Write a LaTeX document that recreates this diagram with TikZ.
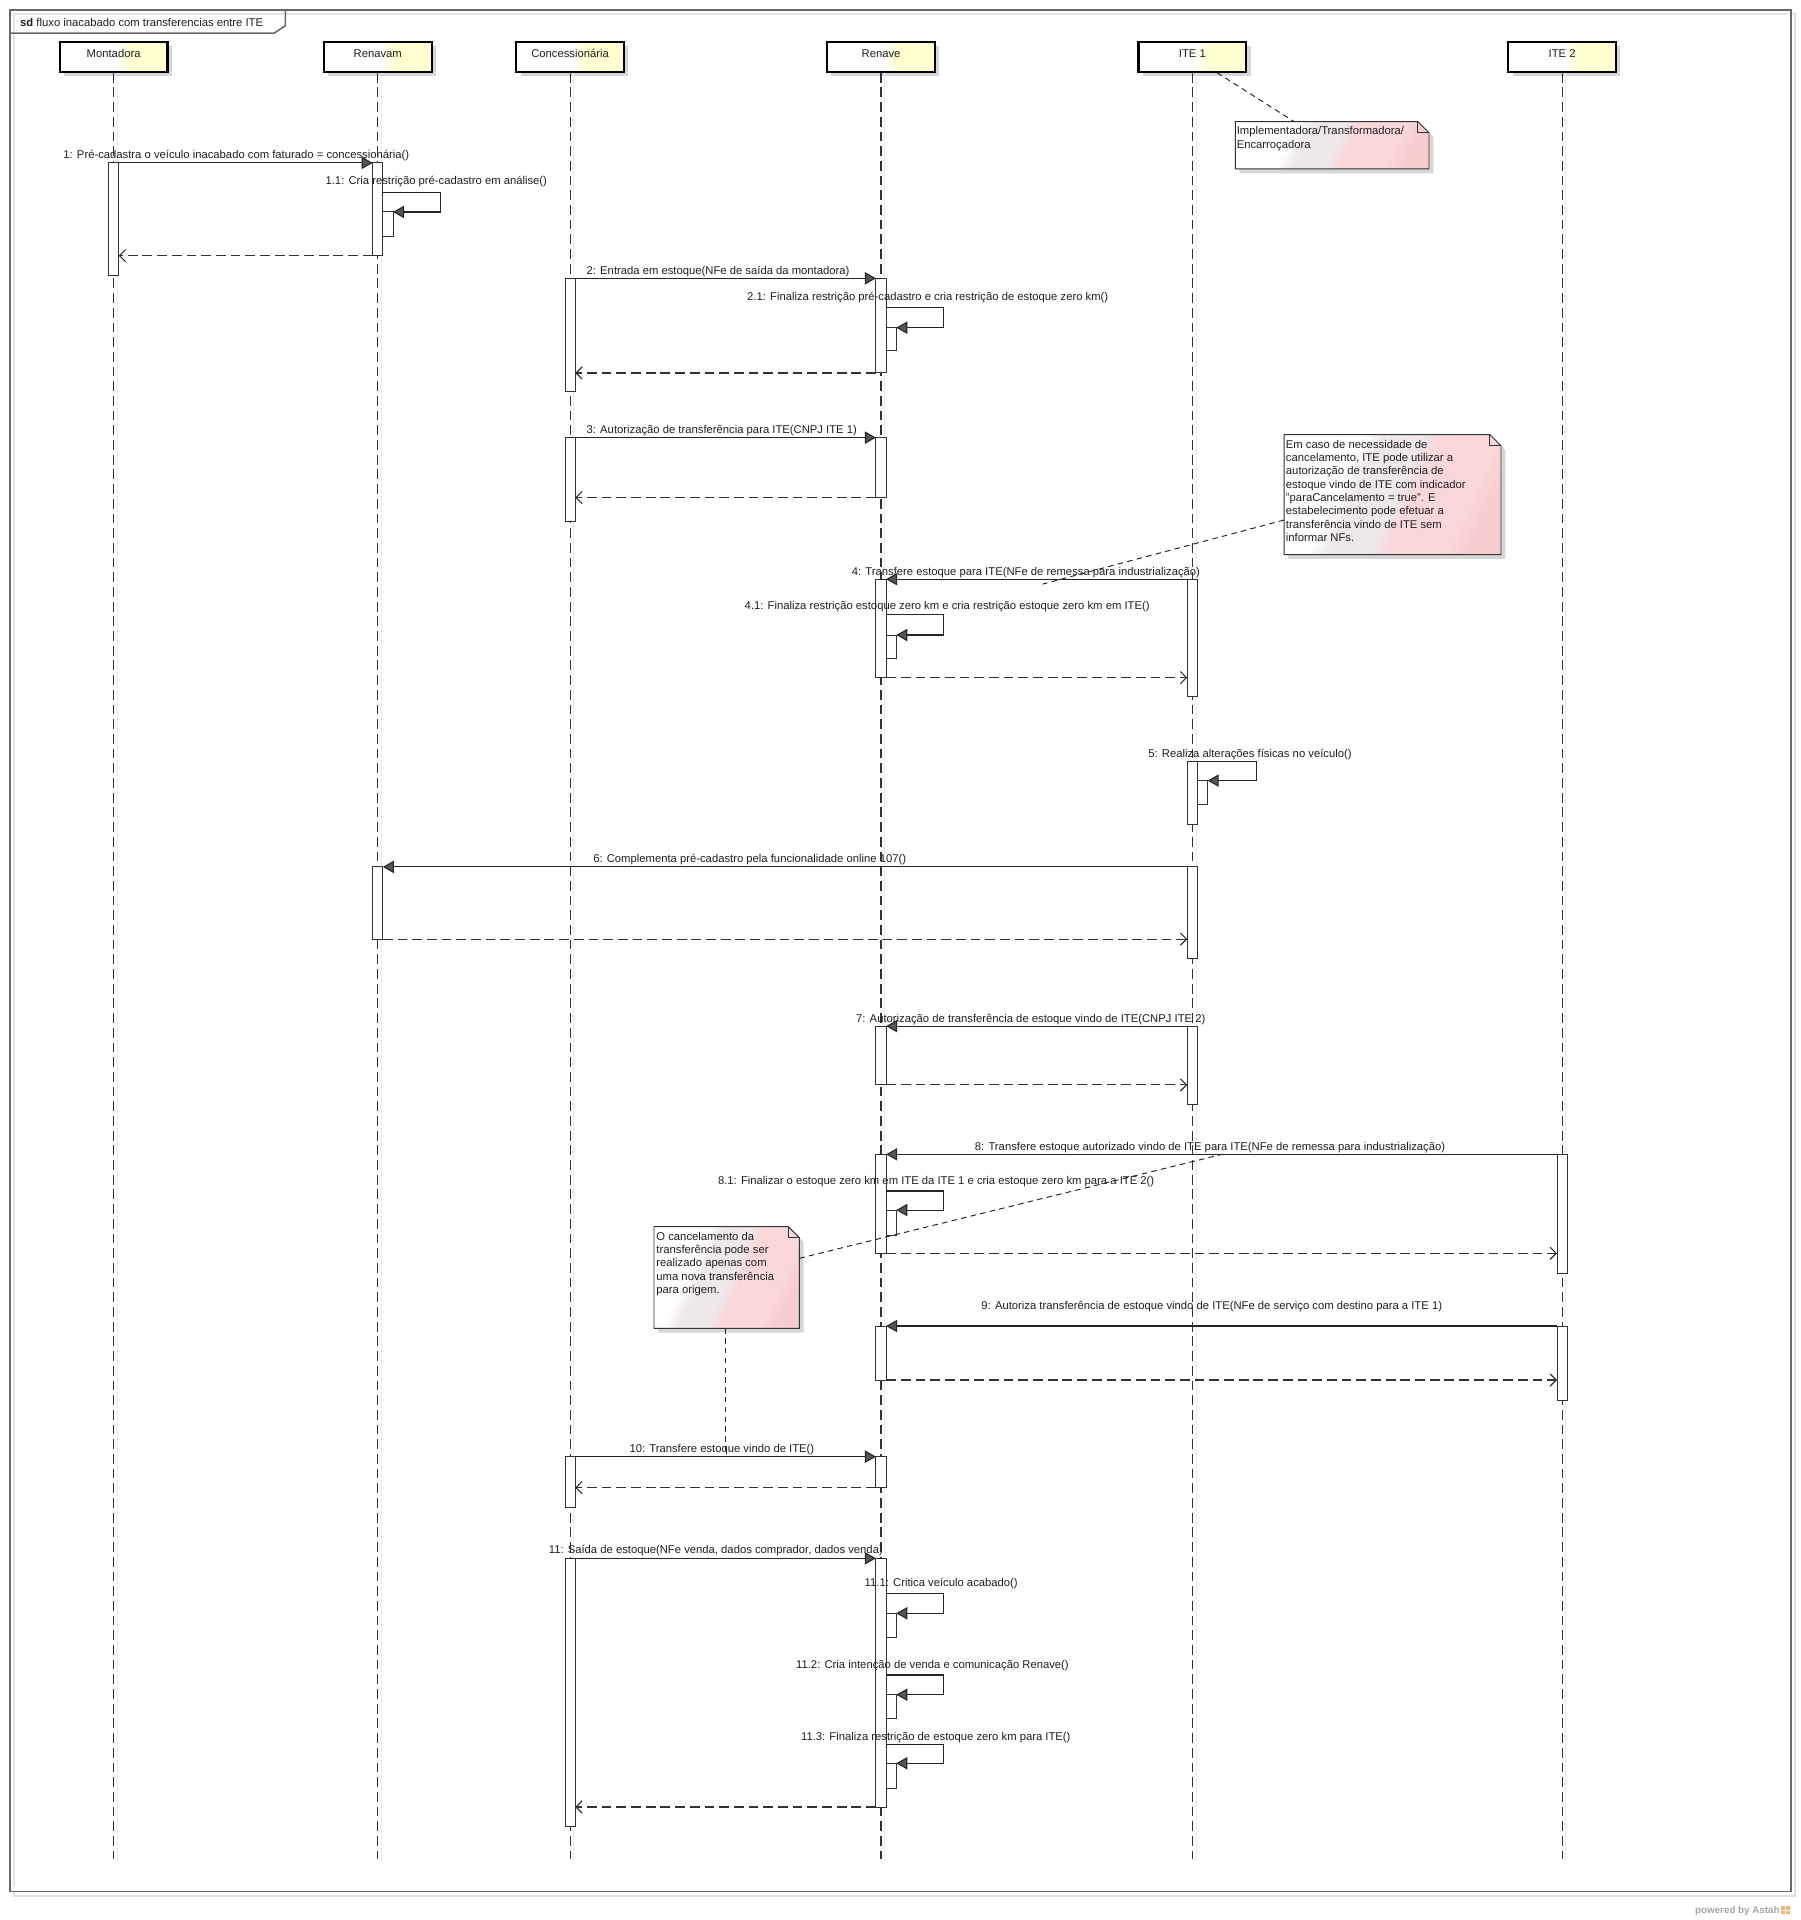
\documentclass[tikz,border=0pt]{standalone}
\usepackage{fontspec}
\setmainfont{Liberation Sans}
\usetikzlibrary{arrows.meta}
\definecolor{headyellow}{RGB}{255,255,210}
\definecolor{notepink}{RGB}{250,216,218}
\definecolor{notepinkdk}{RGB}{246,204,207}
\definecolor{notegray}{RGB}{238,232,233}
\definecolor{shadowgray}{RGB}{214,214,214}
\definecolor{linegray}{RGB}{50,50,50}
\definecolor{framegray}{RGB}{105,105,105}
\definecolor{arrowgray}{RGB}{85,85,85}
\definecolor{footgray}{RGB}{165,165,165}
\definecolor{astahorange}{RGB}{246,178,112}
\pgfdeclarehorizontalshading{headshade}{100bp}{color(0bp)=(white); color(25bp)=(white); color(51bp)=(white); color(57bp)=(headyellow); color(100bp)=(headyellow)}
\pgfdeclarehorizontalshading{noteshade}{100bp}{color(0bp)=(white); color(25bp)=(white); color(36bp)=(white); color(41bp)=(notegray); color(51bp)=(notegray); color(55bp)=(notepink); color(69bp)=(notepink); color(75bp)=(notepinkdk); color(100bp)=(notepinkdk)}
\tikzset{
  txt/.style={font=\fontsize{9.2}{10.9}\selectfont, text=black!88, inner sep=0pt},
  lbl/.style={txt, anchor=base west},
  notetxt/.style={txt, anchor=base west},
  headbox/.style={draw=black, line width=1.8pt, shading=headshade, minimum width=88pt, minimum height=24.5pt, txt, text height=6.6pt, text depth=5.5pt,
    preaction={fill=shadowgray, draw=none, transform canvas={xshift=3.5pt, yshift=-3.5pt}}},
  lifeline/.style={draw=linegray, line width=0.9pt, dash pattern=on 8pt off 4pt},
  actbox/.style={draw=linegray, fill=white, line width=0.8pt, minimum width=8.3pt, inner sep=0pt, outer sep=0pt, anchor=north},
  msg/.style={draw=black!85, line width=0.9pt, -{Triangle[length=9pt,width=10pt,fill=arrowgray]}},
  ret/.style={draw=linegray, line width=0.9pt, dash pattern=on 8pt off 4pt, -{Straight Barb[length=5pt,width=10pt]}},
  notebody/.style={draw=linegray, line width=0.8pt, shading=noteshade, shading angle=-25,
    preaction={fill=shadowgray, draw=none, transform canvas={xshift=3.5pt, yshift=-3.5pt}}},
  notefold/.style={draw=linegray, line width=0.8pt},
  noteline/.style={draw=black!85, line width=0.8pt, dash pattern=on 4.5pt off 3.5pt},
  framestyle/.style={draw=framegray, line width=1.3pt},
}
\newcommand{\actn}[4]{\node[actbox, minimum height={(#4)-(#3)}] (#1) at (#2,#3) {};}
\newcommand{\notepoly}[5]{%
  \path[notebody] (#1,#2) -- (#3-#5,#2) -- (#3,#2+#5) -- (#3,#4) -- (#1,#4) -- cycle;
  \draw[notefold] (#3-#5,#2) -- (#3-#5,#2+#5) -- (#3,#2+#5);}
\newcommand{\nl}[1]{\hbox{\strut #1}}
\begin{document}
\begin{tikzpicture}[x=1pt, y=-1pt]
\useasboundingbox (0,0) rectangle (1470,1568);
\fill[white] (0,0) rectangle (1470,1568);
% frame
\draw[draw=black!12, line width=1.2pt] (11.5,11.5) rectangle (1466,1548.3);
\draw[framestyle, fill=white] (8,8) rectangle (1462.6,1544.8);
\draw[draw=black!10, line width=1pt] (11.5,11.5) -- (1459,11.5);
\draw[draw=black!10, line width=1pt] (11.5,11.5) -- (11.5,1541);
\draw[framestyle] (8,27) -- (224,27) -- (233,21) -- (233,8);
\node[lbl] (title) at (16.3,21.5) {\textbf{sd} fluxo inacabado com transferencias entre ITE};

% heads
\def\xM{92.8}\def\xRv{308.5}\def\xC{465.6}\def\xRe{719.5}\def\xIa{973.8}\def\xIb{1275.7}
\node[headbox] (hM)  at (\xM,46.25)  {Montadora};
\node[headbox] (hRv) at (\xRv,46.25) {Renavam};
\node[headbox] (hC)  at (\xC,46.25)  {Concessionária};
\node[headbox] (hRe) at (\xRe,46.25) {Renave};
\node[headbox] (hIa) at (\xIa,46.25) {ITE 1};
\node[headbox] (hIb) at (\xIb,46.25) {ITE 2};

% lifelines
\foreach \h in {hM,hRv,hC,hRe,hIa,hIb}{
  \draw[draw=black!8, line width=0.9pt] ([xshift=3pt]\h.south) -- ([xshift=3pt]\h.south |- 0,1520);
  \coordinate (\h end) at (\h.south |- 0,1518.5);
  \draw[lifeline] (\h.south) -- (\h end);
}

% activations
\actn{aM1}{\xM}{133}{224.9}
\actn{aRv1}{\xRv}{133}{208.8}
\actn{aRv11}{\xRv+8.3}{173.1}{193.3}
\actn{aC2}{\xC}{227.3}{319.9}
\actn{aRe2}{\xRe}{227.3}{304.6}
\actn{aRe21}{\xRe+8.3}{267.6}{286.6}
\actn{aC3}{\xC}{357.4}{426}
\actn{aRe3}{\xRe}{357.4}{406.4}
\actn{aI4}{\xIa}{473}{568.4}
\actn{aRe4}{\xRe}{473}{553.4}
\actn{aRe41}{\xRe+8.3}{518.6}{537.6}
\actn{aI5}{\xIa}{622}{673}
\actn{aI51}{\xIa+8.3}{637.5}{657.4}
\actn{aI6}{\xIa}{708}{783}
\actn{aRv6}{\xRv}{708}{767}
\actn{aI7}{\xIa}{838}{901.6}
\actn{aRe7}{\xRe}{838}{886}
\actn{aJ8}{\xIb}{942.7}{1039.8}
\actn{aRe8}{\xRe}{942.7}{1023.5}
\actn{aRe81}{\xRe+8.3}{988.2}{1008.6}
\actn{aJ9}{\xIb}{1082.9}{1143.9}
\actn{aRe9}{\xRe}{1082.9}{1127}
\actn{aC10}{\xC}{1189.6}{1231}
\actn{aRe10}{\xRe}{1189.6}{1214.9}
\actn{aC11}{\xC}{1272.6}{1491.8}
\actn{aRe11}{\xRe}{1272.6}{1475.7}
\actn{aRe111}{\xRe+8.3}{1317.5}{1337.1}
\actn{aRe112}{\xRe+8.3}{1384}{1403.8}
\actn{aRe113}{\xRe+8.3}{1440}{1460.4}

% messages
\draw[msg] (aM1.north east) -- (aRv1.north west);
\coordinate (s11) at (aRv1.east |- 0,157.4);
\draw[msg] (s11) -- (s11 -| 360,0) |- (aRv11.north east);
\draw[ret] (aRv1.south west) -- (aM1.east |- aRv1.south);

\draw[msg] (aC2.north east) -- (aRe2.north west);
\coordinate (s21) at (aRe2.east |- 0,251.3);
\draw[msg] (s21) -- (s21 -| 770.5,0) |- (aRe21.north east);
\draw[ret] (aRe2.south west) -- (aC2.east |- aRe2.south);

\draw[msg] (aC3.north east) -- (aRe3.north west);
\draw[ret] (aRe3.south west) -- (aC3.east |- aRe3.south);

\draw[msg] (aI4.north west) -- (aRe4.north east);
\coordinate (s41) at (aRe4.east |- 0,502);
\draw[msg] (s41) -- (s41 -| 770.5,0) |- (aRe41.north east);
\draw[ret] (aRe4.south east) -- (aI4.west |- aRe4.south);

\coordinate (s5) at (aI5.north east);
\draw[msg] (s5) -- (s5 -| 1025.8,0) |- (aI51.north east);

\draw[msg] (aI6.north west) -- (aRv6.north east);
\draw[ret] (aRv6.south east) -- (aI6.west |- aRv6.south);

\draw[msg] (aI7.north west) -- (aRe7.north east);
\draw[ret] (aRe7.south east) -- (aI7.west |- aRe7.south);

\draw[msg] (aJ8.north west) -- (aRe8.north east);
\coordinate (s81) at (aRe8.east |- 0,972.6);
\draw[msg] (s81) -- (s81 -| 770.5,0) |- (aRe81.north east);
\draw[ret] (aRe8.south east) -- (aJ8.west |- aRe8.south);

\draw[msg] (aJ9.north west) -- (aRe9.north east);
\draw[ret] (aRe9.south east) -- (aJ9.west |- aRe9.south);

\draw[msg] (aC10.north east) -- (aRe10.north west);
\draw[ret] (aRe10.south west) -- (aC10.east |- aRe10.south);

\draw[msg] (aC11.north east) -- (aRe11.north west);
\coordinate (s111) at (aRe11.east |- 0,1301.2);
\draw[msg] (s111) -- (s111 -| 770.5,0) |- (aRe111.north east);
\coordinate (s112) at (aRe11.east |- 0,1367.9);
\draw[msg] (s112) -- (s112 -| 770.5,0) |- (aRe112.north east);
\coordinate (s113) at (aRe11.east |- 0,1424.3);
\draw[msg] (s113) -- (s113 -| 770.5,0) |- (aRe113.north east);
\draw[ret] (aRe11.south west) -- (aC11.east |- aRe11.south);

% labels
\node[lbl] (l1)   at (51.6,129.8) {1: Pré-cadastra o veículo inacabado com faturado = concessionária()};
\node[lbl] (l11)  at (265.7,151) {1.1: Cria restrição pré-cadastro em análise()};
\node[lbl] (l2)   at (478.9,223.8) {2: Entrada em estoque(NFe de saída da montadora)};
\node[lbl] (l21)  at (610,245.3) {2.1: Finaliza restrição pré-cadastro e cria restrição de estoque zero km()};
\node[lbl] (l3)   at (478.9,354.4) {3: Autorização de transferência para ITE(CNPJ ITE 1)};
\node[lbl] (l4)   at (695.5,469.6) {4: Transfere estoque para ITE(NFe de remessa para industrialização)};
\node[lbl] (l41)  at (608,498) {4.1: Finaliza restrição estoque zero km e cria restrição estoque zero km em ITE()};
\node[lbl] (l5)   at (937.6,618.5) {5: Realiza alterações físicas no veículo()};
\node[lbl] (l6)   at (484.3,704.5) {6: Complementa pré-cadastro pela funcionalidade online 107()};
\node[lbl] (l7)   at (699,835.2) {7: Autorização de transferência de estoque vindo de ITE(CNPJ ITE 2)};
\node[lbl] (l8)   at (796,939.7) {8: Transfere estoque autorizado vindo de ITE para ITE(NFe de remessa para industrialização)};
\node[lbl] (l81)  at (586.2,967.7) {8.1: Finalizar o estoque zero km em ITE da ITE 1 e cria estoque zero km para a ITE 2()};
\node[lbl] (l9)   at (801.3,1069.3) {9: Autoriza transferência de estoque vindo de ITE(NFe de serviço com destino para a ITE 1)};
\node[lbl] (l10)  at (513.9,1186) {10: Transfere estoque vindo de ITE()};
\node[lbl] (l11m) at (448,1268.5) {11: Saída de estoque(NFe venda, dados comprador, dados venda)};
\node[lbl] (l111) at (706,1295.8) {11.1: Critica veículo acabado()};
\node[lbl] (l112) at (650,1362.4) {11.2: Cria intenção de venda e comunicação Renave()};
\node[lbl] (l113) at (654,1421) {11.3: Finaliza restrição de estoque zero km para ITE()};

% notes
\notepoly{1008.8}{99.4}{1167}{138}{9}
\node[notetxt] (n1) at (1009.8,110) {\vtop{\nl{Implementadora/Transformadora/}\nl{Encarroçadora}}};
\notepoly{1048.6}{355}{1225.8}{453}{9}
\node[notetxt] (n2) at (1050,366) {\vtop{\nl{Em caso de necessidade de}\nl{cancelamento, ITE pode utilizar a}\nl{autorização de transferência de}\nl{estoque vindo de ITE com indicador}\nl{"paraCancelamento = true". E}\nl{estabelecimento pode efetuar a}\nl{transferência vindo de ITE sem}\nl{informar NFs.}}};
\notepoly{534.1}{1001.8}{652.8}{1084.8}{9}
\node[notetxt] (n3) at (535.9,1012.7) {\vtop{\nl{O cancelamento da}\nl{transferência pode ser}\nl{realizado apenas com}\nl{uma nova transferência}\nl{para origem.}}};

% note connectors
\coordinate (c1a) at (hIa.south -| 993.9,0);
\coordinate (c1b) at (1057,99.4);
\draw[noteline] (c1a) -- (c1b);
\coordinate (c2a) at (1048.6,424.7);
\coordinate (c2b) at (851.5,477);
\draw[noteline] (c2a) -- (c2b);
\coordinate (c3a) at (652.8,1027.6);
\coordinate (c3b) at (999.2,942.4);
\draw[noteline] (c3a) -- (c3b);
\coordinate (c4a) at (592.6,1084.8);
\coordinate (c4b) at (592.6,1190);
\draw[noteline] (c4a) -- (c4b);

% footer
\node[anchor=base west, inner sep=0pt, font=\bfseries\fontsize{8}{9}\selectfont, text=footgray] (foot) at (1384.2,1562.5) {powered by Astah};
\node[fill=astahorange, minimum width=7pt, minimum height=7pt, inner sep=0pt, anchor=west] (icon) at ([xshift=0.8pt,yshift=2.8pt]foot.base east) {};
\draw[white, line width=0.5pt] (icon.north) -- (icon.south) (icon.west) -- (icon.east);
\end{tikzpicture}
\end{document}
